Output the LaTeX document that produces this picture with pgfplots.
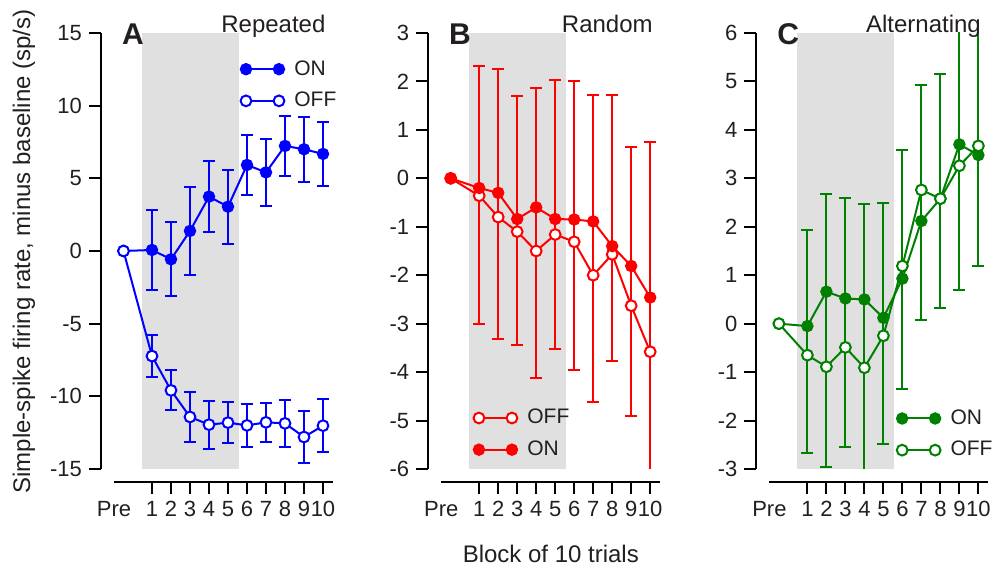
\documentclass[border=0pt]{standalone}
\usepackage{pgfplots}
\pgfplotsset{compat=1.18}
\usepackage{fontspec}
\setmainfont{Liberation Sans}
\definecolor{txt}{RGB}{35,31,32}
\definecolor{bgshade}{RGB}{224,224,224}
\definecolor{myblue}{RGB}{0,0,255}
\definecolor{myred}{RGB}{255,0,0}
\definecolor{mygreen}{RGB}{0,128,0}
\tikzset{
  lettr/.style={anchor=base west, font=\bfseries\fontsize{15}{18}\selectfont, text=txt},
  ttl/.style={anchor=base east, font=\fontsize{12}{14}\selectfont, text=txt},
}
\pgfplotsset{
  panel/.style={
    scale only axis, width=109.25pt, height=218pt,
    xmin=-1, xmax=10.5,
    axis lines=left, axis line style={-, line width=1pt, black},
    axis x line shift=6.5pt, axis y line shift=6.5pt,
    tick align=outside, major tick length=6pt,
    tick style={line width=1pt, black},
    xtick={1,...,10},
    extra x ticks={-1}, extra x tick labels={Pre},
    extra x tick style={major tick style={draw=none}},
    tick label style={font=\fontsize{11}{13}\selectfont, text=txt},
    /pgf/number format/assume math mode=true,
    clip mode=individual,
    legend image code/.code={\draw[mark repeat=1,##1] plot coordinates {(0pt,0pt) (16.5pt,0pt)};},
    legend style={draw=none, fill=none, font=\fontsize{10.5}{12}\selectfont, text=txt,
      inner sep=0pt, column sep=1.5pt, row sep=0pt, nodes={inner sep=3.5pt}},
    legend cell align=left,
  },
  on/.style={#1, line width=1pt, mark=*, mark size=2.6pt, mark options={solid, line width=1pt, fill=#1, draw=#1}},
  off/.style={#1, line width=1pt, mark=*, mark size=2.7pt, mark options={solid, line width=1pt, fill=white, draw=#1}},
  bars/.style={
    error bars/.cd, y dir=both, y explicit, error mark=|,
    error bar style={line width=1pt, solid, #1},
    error mark options={line width=1pt, mark size=3pt, solid, #1}},
}
\begin{document}
\begin{tikzpicture}
\useasboundingbox (0,0) rectangle (501.5pt,283pt);
% ---------------- A ----------------
\begin{axis}[panel, at={(57pt,48.5pt)}, anchor=south west,
  ymin=-15, ymax=15, ytick={-15,-10,...,15},
  legend style={at={(axis cs:6.0,12.6)}, anchor=north west, xshift=-3.4pt, yshift=7.45pt}]
\fill[bgshade] (axis cs:0.45,-15) rectangle (axis cs:5.58,15);
\addplot[on=myblue, bars=myblue] coordinates {(-0.5,0) +- (0,0)
 (1,0.07) +- (0,2.78) (2,-0.57) +- (0,2.55) (3,1.38) +- (0,3.025)
 (4,3.74) +- (0,2.455) (5,3.05) +- (0,2.535) (6,5.92) +- (0,2.065)
 (7,5.41) +- (0,2.315) (8,7.23) +- (0,2.045) (9,7.0) +- (0,2.225)
 (10,6.68) +- (0,2.2)};
\addplot[off=myblue, bars=myblue] coordinates {(-0.5,0) +- (0,0)
 (1,-7.23) +- (0,1.45) (2,-9.59) +- (0,1.375) (3,-11.42) +- (0,1.72)
 (4,-11.95) +- (0,1.655) (5,-11.81) +- (0,1.435) (6,-12.0) +- (0,1.48)
 (7,-11.79) +- (0,1.34) (8,-11.86) +- (0,1.62) (9,-12.8) +- (0,1.77)
 (10,-12.02) +- (0,1.835)};
\legend{ON,OFF}
\node[ttl] at (axis cs:10.5,15) {Repeated};
\node[lettr] at (axis cs:-0.95,15) [yshift=-5.6pt] {A};
\end{axis}
% ---------------- B ----------------
\begin{axis}[panel, at={(220.6pt,48.5pt)}, anchor=south west,
  ymin=-6, ymax=3, ytick={-6,...,3},
  legend style={at={(axis cs:1.04,-4.92)}, anchor=north west, xshift=-3.4pt, yshift=7.45pt}]
\fill[bgshade] (axis cs:0.45,-6) rectangle (axis cs:5.58,3);
\addplot[off=myred, bars=myred] coordinates {(-0.5,0) += (0,0) -= (0,0)
 (1,-0.36) += (0,2.68) -= (0,2.65)
 (2,-0.80) += (0,3.05) -= (0,2.52)
 (3,-1.10) += (0,2.79) -= (0,2.34)
 (4,-1.50) += (0,3.37) -= (0,2.62)
 (5,-1.16) += (0,3.18) -= (0,2.37)
 (6,-1.31) += (0,3.31) -= (0,2.65)
 (7,-2.00) += (0,3.73) -= (0,2.61)
 (8,-1.57) += (0,3.30) -= (0,2.20)
 (9,-2.63) += (0,3.285) -= (0,2.27)
 (10,-3.58) += (0,4.34) -= (0,2.92)};
\addplot[on=myred] coordinates {(-0.5,0) (1,-0.2) (2,-0.3) (3,-0.84) (4,-0.6) (5,-0.84) (6,-0.85) (7,-0.89) (8,-1.40) (9,-1.81) (10,-2.46)};
\legend{OFF,ON}
\node[ttl] at (axis cs:10.5,3) {Random};
\node[lettr] at (axis cs:-0.95,3) [yshift=-5.6pt] {B};
\end{axis}
% ---------------- C ----------------
\begin{axis}[panel, at={(384.7pt,48.5pt)}, anchor=south west,
  ymin=-3, ymax=6, ytick={-3,...,6},
  legend style={at={(axis cs:6.04,-1.93)}, anchor=north west, xshift=-3.4pt, yshift=7.45pt}]
\fill[bgshade] (axis cs:0.45,-3) rectangle (axis cs:5.58,6);
\addplot[on=mygreen, bars=mygreen] coordinates {(-0.5,0) += (0,0) -= (0,0)
 (1,-0.05) += (0,1.98) -= (0,2.62)
 (2,0.66) += (0,2.01) -= (0,3.62)
 (3,0.52) += (0,2.08) -= (0,3.07)
 (4,0.50) += (0,1.96) -= (0,3.8)
 (5,0.12) += (0,2.38) -= (0,2.61)
 (6,0.93) += (0,2.65) -= (0,2.27)
 (7,2.12) += (0,2.81) -= (0,2.04)
 (8,2.58) += (0,2.57) -= (0,2.26)
 (9,3.70) += (0,2.8) -= (0,3.01)
 (10,3.48) += (0,3.02) -= (0,2.29)};
\addplot[off=mygreen] coordinates {(-0.5,0) (1,-0.65) (2,-0.89) (3,-0.49) (4,-0.91) (5,-0.25) (6,1.19) (7,2.76) (8,2.58) (9,3.26) (10,3.67)};
\legend{ON,OFF}
\node[ttl] at (axis cs:10.5,6) {Alternating};
\node[lettr] at (axis cs:-0.95,6) [yshift=-5.6pt] {C};
\end{axis}
\node[rotate=90, font=\fontsize{12}{14}\selectfont, text=txt] at (12pt,157.25pt) {Simple-spike firing rate, minus baseline (sp/s)};
\node[anchor=base, font=\fontsize{12}{14}\selectfont, text=txt] at (275.4pt,1.65pt) {Block of 10 trials};
\end{tikzpicture}
\end{document}
